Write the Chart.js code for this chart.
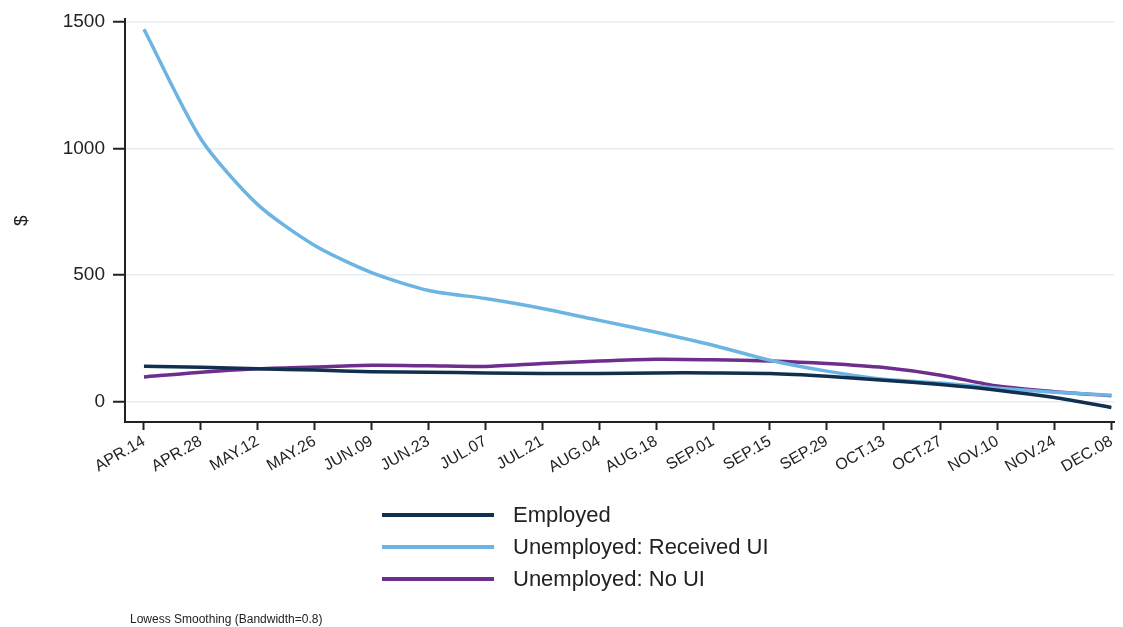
<!DOCTYPE html>
<html>
<head>
<meta charset="utf-8">
<script src="https://cdn.jsdelivr.net/npm/chart.js@4/dist/chart.umd.min.js"></script>
<style>
  html, body { margin: 0; padding: 0; background: #fff; }
  canvas { display: block; }
</style>
</head>
<body>
<canvas id="spend-chart" width="1123" height="627"></canvas>
<script>
const dateLabels = ['APR.14', 'APR.28', 'MAY.12', 'MAY.26', 'JUN.09', 'JUN.23', 'JUL.07', 'JUL.21', 'AUG.04',
  'AUG.18', 'SEP.01', 'SEP.15', 'SEP.29', 'OCT.13', 'OCT.27', 'NOV.10', 'NOV.24', 'DEC.08'];

const employed   = [141, 137, 131, 126, 120, 118, 115, 113, 113, 115, 115, 113, 102, 86, 69, 47, 18, -21];
const receivedUI = [1469, 1037, 778, 617, 510, 440, 408, 369, 322, 275, 224, 165, 122, 90, 75, 55, 39, 27];
const noUI       = [99, 118, 131, 138, 145, 143, 140, 152, 162, 169, 167, 162, 152, 136, 106, 63, 41, 25];

const yTicks = [0, 500, 1000, 1500];
const footNote = 'Lowess Smoothing (Bandwidth=0.8)';

const FONT = 'Liberation Sans, Arial, sans-serif';
const INK = '#222';

const toPoints = arr => arr.map((v, i) => ({ x: i, y: v }));

// legend stacked under the plot, plus the smoothing note
const legendBelow = {
  id: 'legendBelow',
  afterDraw(chart) {
    const ctx = chart.ctx;
    ctx.save();
    chart.data.datasets.forEach((ds, i) => {
      const y = 515 + i * 32;
      ctx.strokeStyle = ds.borderColor;
      ctx.lineWidth = 4;
      ctx.beginPath();
      ctx.moveTo(382, y);
      ctx.lineTo(494, y);
      ctx.stroke();
      ctx.fillStyle = INK;
      ctx.font = '22px ' + FONT;
      ctx.textBaseline = 'middle';
      ctx.textAlign = 'left';
      ctx.fillText(ds.label, 513, y + 1);
    });
    ctx.font = '12px ' + FONT;
    ctx.fillStyle = INK;
    ctx.textBaseline = 'middle';
    ctx.fillText(footNote, 130, 620);
    ctx.restore();
  }
};

new Chart(document.getElementById('spend-chart'), {
  type: 'line',
  data: {
    datasets: [
      { label: 'Employed', data: toPoints(employed), borderColor: '#11304f' },
      { label: 'Unemployed: Received UI', data: toPoints(receivedUI), borderColor: '#6cb4e2' },
      { label: 'Unemployed: No UI', data: toPoints(noUI), borderColor: '#6d2e8e' }
    ]
  },
  options: {
    responsive: false,
    animation: false,
    layout: { padding: { top: 5, right: 1, left: 0, bottom: 0 } },
    elements: {
      line: { borderWidth: 3.5, tension: 0.25, fill: false },
      point: { radius: 0 }
    },
    plugins: {
      legend: { display: false },
      tooltip: { enabled: false }
    },
    scales: {
      x: {
        type: 'linear',
        min: -0.333,
        max: 17.05,
        afterBuildTicks: s => { s.ticks = dateLabels.map((_, i) => ({ value: i })); },
        afterFit: s => { s.height = 205; },
        ticks: {
          autoSkip: false,
          minRotation: 30,
          maxRotation: 30,
          color: INK,
          font: { family: FONT, size: 16 },
          padding: 2,
          callback: v => dateLabels[v]
        },
        grid: { drawOnChartArea: false, tickLength: 8, tickColor: INK, tickWidth: 2 },
        border: { color: INK, width: 2 }
      },
      y: {
        min: -78.5,
        max: 1508,
        afterBuildTicks: s => { s.ticks = yTicks.map(v => ({ value: v })); },
        afterFit: s => { s.width = 125; },
        ticks: {
          color: INK,
          font: { family: FONT, size: 19 },
          padding: 8,
          callback: v => String(v)
        },
        title: {
          display: true,
          text: '$',
          color: INK,
          font: { family: FONT, size: 19 },
          padding: { top: 10 }
        },
        grid: { color: '#e4eef2', lineWidth: 1.5, tickLength: 12, tickColor: INK, tickWidth: 2 },
        border: { color: INK, width: 2 }
      }
    }
  },
  plugins: [legendBelow]
});
</script>
</body>
</html>
